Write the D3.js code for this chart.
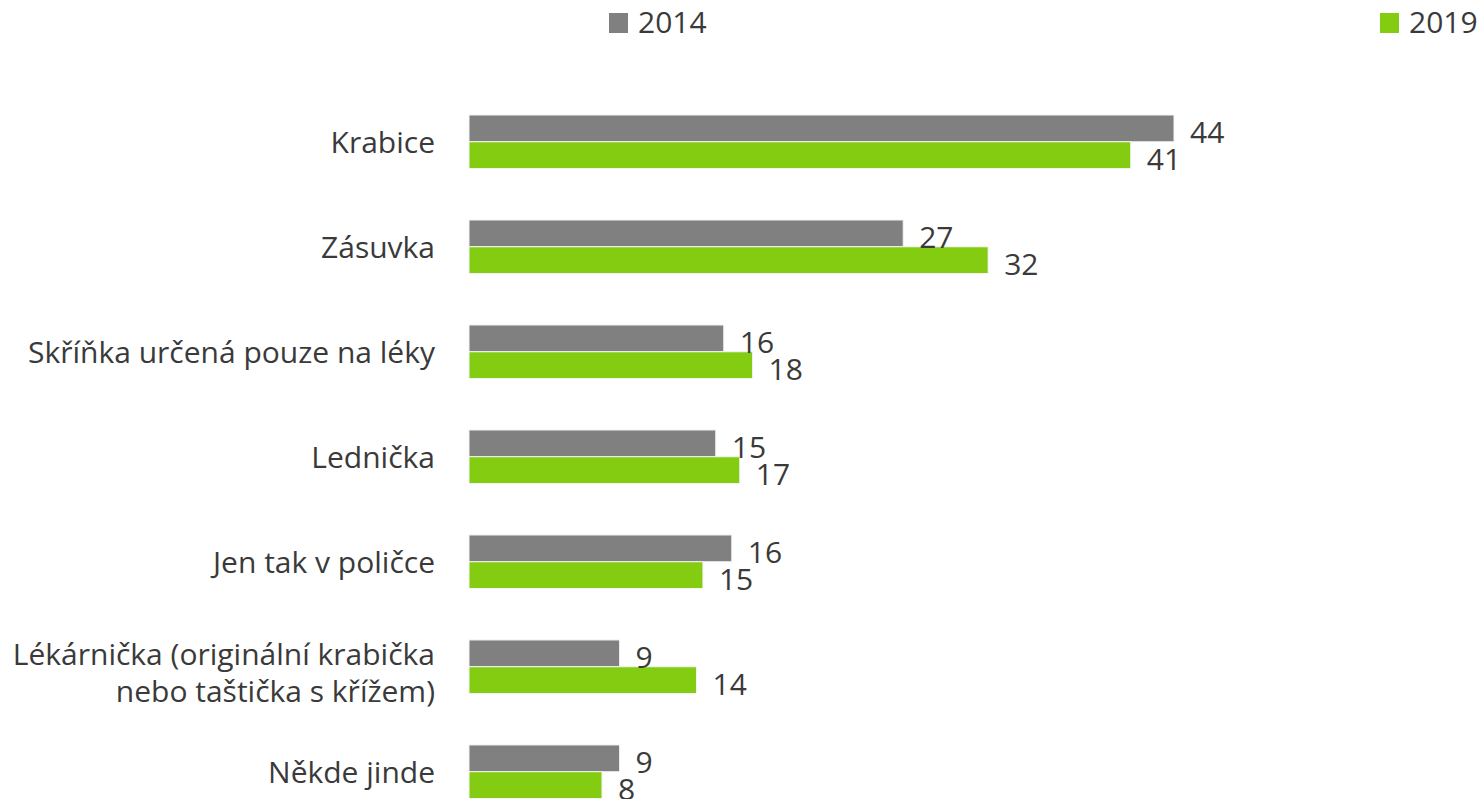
<!DOCTYPE html>
<html>
<head>
<meta charset="utf-8">
<script src="https://cdn.jsdelivr.net/npm/d3@7"></script>
<style>
  body { margin: 0; background: #fff; }
  text { font-family: 'Open Sans', 'Noto Sans', sans-serif; fill: #3a3a3a; }
</style>
</head>
<body>
<div id="chart"></div>
<script>

////////////////////////////////////////////////////////////
// Data
////////////////////////////////////////////////////////////

const categories = [
  ['Krabice'],
  ['Zásuvka'],
  ['Skříňka určená pouze na léky'],
  ['Lednička'],
  ['Jen tak v poličce'],
  ['Lékárnička (originální krabička', 'nebo taštička s křížem)'],
  ['Někde jinde']
]
const series_names = ['2014', '2019']
const values_2014 = [44, 27.1, 15.9, 15.4, 16.4, 9.4, 9.4]
const values_2019 = [41.3, 32.4, 17.7, 16.9, 14.6, 14.2, 8.3]
const series_colors = ['#808080', '#84cc12']

////////////////////////////////////////////////////////////
// Layout
////////////////////////////////////////////////////////////

const W = 1480
const H = 799
const font_size = 30

const svg = d3.select('#chart')
  .append('svg')
  .attr('width', W)
  .attr('height', H)

const rows = categories.map((c, i) => ({
  label: c,
  key: c.join(' '),
  values: [values_2014[i], values_2019[i]]
}))

const x_scale = d3.scaleLinear()
  .domain([0, 44])
  .range([469, 1174])

const y_scale = d3.scaleBand()
  .domain(rows.map(d => d.key))
  .range([115, 798.5])
  .paddingInner(0.49)
  .paddingOuter(0)

const y_inner = d3.scaleBand()
  .domain(series_names)
  .range([0, y_scale.bandwidth()])

////////////////////////////////////////////////////////////
// Bars
////////////////////////////////////////////////////////////

const groups = svg.selectAll('g.row')
  .data(rows)
  .enter()
  .append('g')
    .attr('class', 'row')
    .attr('transform', d => `translate(0,${y_scale(d.key)})`)

groups.selectAll('rect')
  .data(d => d.values.map((v, i) => ({ v: v, s: series_names[i], i: i })))
  .enter()
  .append('rect')
    .attr('x', x_scale(0))
    .attr('y', d => y_inner(d.s))
    .attr('width', d => x_scale(d.v) - x_scale(0))
    .attr('height', y_inner.bandwidth())
    .attr('fill', d => series_colors[d.i])
    .attr('stroke', '#f4f4f4')
    .attr('stroke-width', 1)

// Value labels
groups.selectAll('text.value')
  .data(d => d.values.map((v, i) => ({ v: v, s: series_names[i] })))
  .enter()
  .append('text')
    .attr('class', 'value')
    .attr('x', d => x_scale(d.v) + 16)
    .attr('y', d => y_inner(d.s) + y_inner.bandwidth() / 2 + 15)
    .style('font-size', font_size + 'px')
    .text(d => Math.round(d.v))

// Category labels
const cat_labels = groups.append('text')
  .attr('class', 'category')
  .attr('text-anchor', 'end')
  .attr('x', 435)
  .style('font-size', font_size + 'px')

cat_labels.each(function(d) {
  const mid = y_scale.bandwidth() / 2
  const t = d3.select(this)
  if (d.label.length == 1) {
    t.append('tspan').attr('x', 435).attr('y', mid + 11).text(d.label[0])
  } else {
    t.append('tspan').attr('x', 435).attr('y', mid - 2).text(d.label[0])
    t.append('tspan').attr('x', 435).attr('y', mid + 35).text(d.label[1])
  }
})

////////////////////////////////////////////////////////////
// Legend
////////////////////////////////////////////////////////////

const legend_x = [609, 1380]

const legend = svg.selectAll('g.legend')
  .data(series_names)
  .enter()
  .append('g')
    .attr('class', 'legend')
    .attr('transform', (d, i) => `translate(${legend_x[i]},0)`)

legend.append('rect')
  .attr('x', 0)
  .attr('y', 13)
  .attr('width', 19)
  .attr('height', 20)
  .attr('fill', (d, i) => series_colors[i])

legend.append('text')
  .attr('x', 29)
  .attr('y', 33)
  .style('font-size', font_size + 'px')
  .text(d => d)

</script>
</body>
</html>
